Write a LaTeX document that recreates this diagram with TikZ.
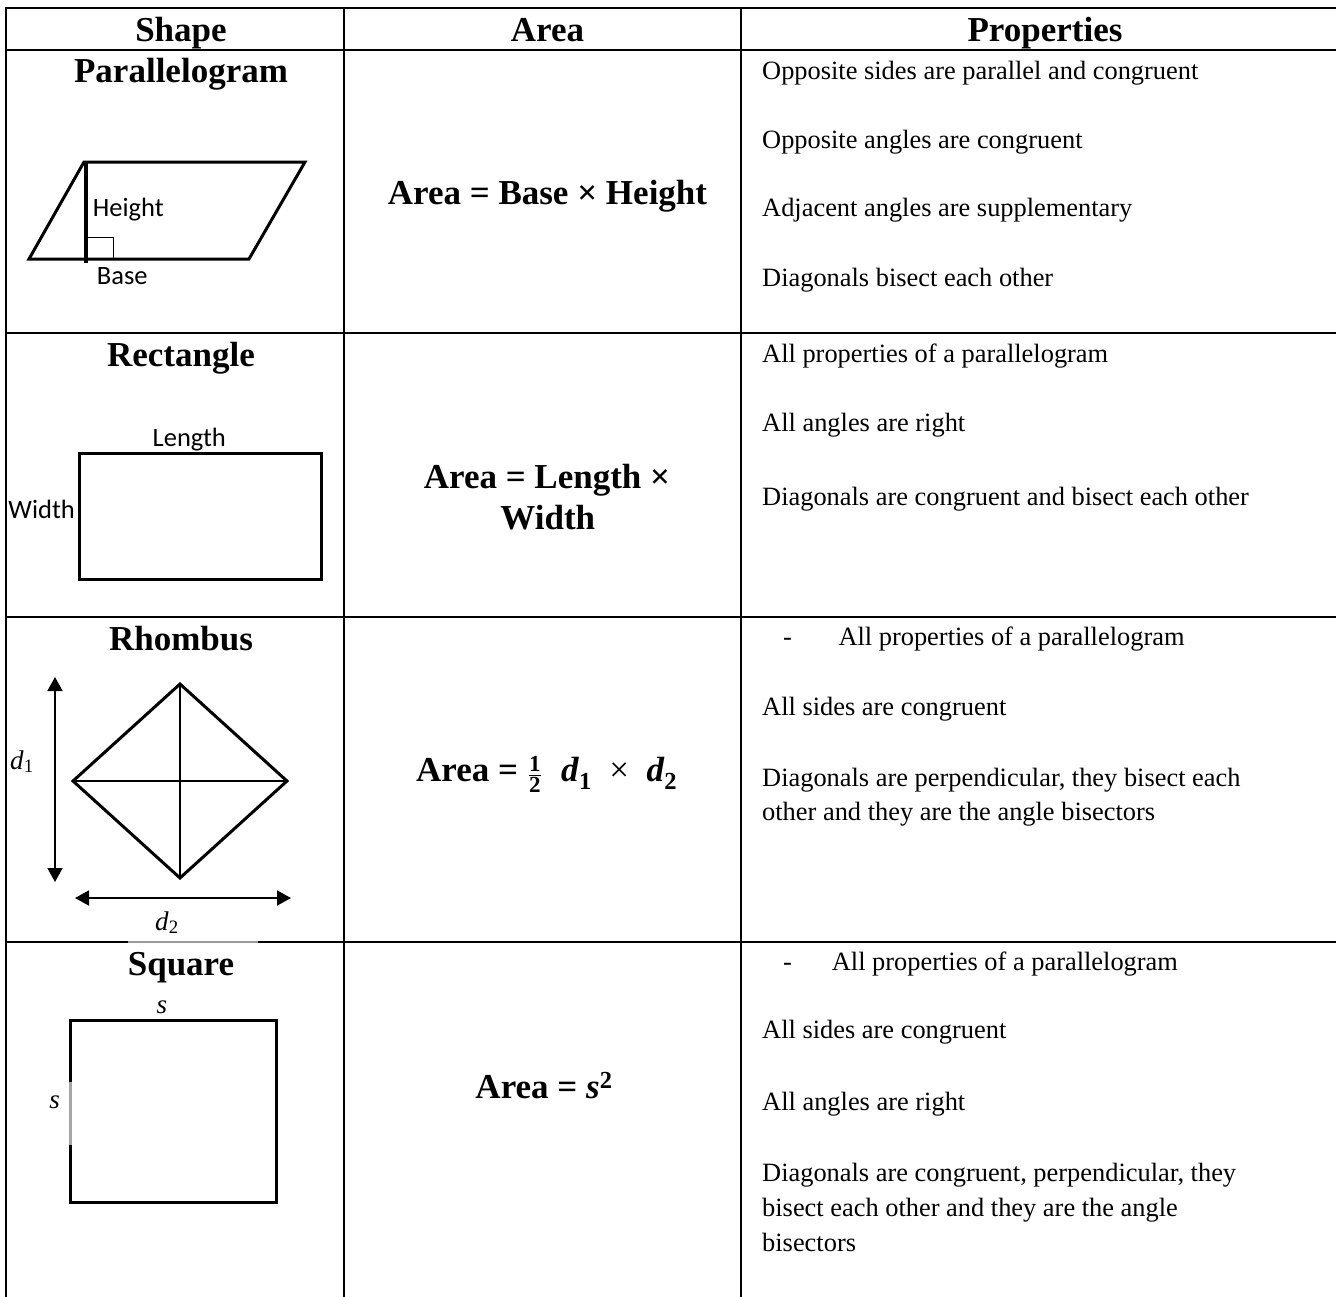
\documentclass[tikz,border=0pt]{standalone}
\usepackage{amsmath}
\usepackage{fontspec}
\setmainfont{Liberation Serif}
\newfontfamily\calibri{Carlito}
\usetikzlibrary{arrows.meta}

\newcommand\headfont{\fontsize{35}{40}\selectfont\bfseries}
\newcommand\bodyfont{\fontsize{26.4}{30}\selectfont}
\newcommand\lblfont{\fontsize{26.5}{30}\selectfont\calibri}
\newcommand\mlblfont{\fontsize{27}{30}\selectfont}
\newcommand\fracdigit[1]{\mbox{\fontsize{23}{23}\selectfont #1}}

\tikzset{
  head/.style={font=\headfont, anchor=base, inner sep=0pt},
  prop/.style={font=\bodyfont, anchor=base west, inner sep=0pt},
  lbl/.style={font=\lblfont, anchor=base west, inner sep=0pt},
  mlbl/.style={font=\mlblfont, anchor=base, inner sep=0pt},
  gridline/.style={line width=2.6pt, line cap=rect},
  outline/.style={line width=3pt, line join=miter},
  diag/.style={line width=1.1pt},
  dimarrow/.style={line width=1.8pt,
    {Triangle[length=14pt,width=15pt]}-{Triangle[length=14pt,width=15pt]}}
}

\begin{document}
\begin{tikzpicture}[x=1pt,y=-1pt]
            \useasboundingbox (0,0) rectangle (1336,1296);

            % table rules
            \draw[gridline] (6,8) -- (1336,8);
            \foreach \y in {50,333,617,942}
                \draw[gridline] (6,\y) -- (1336,\y);
            \foreach \x in {6,344,741}
                \draw[gridline] (\x,8) -- (\x,1296);

            \node[head] (hshape) at (181,41.7) {Shape};
            \node[head] (harea) at (547.5,41.7) {Area};
            \node[head] (hprop) at (1045,41.7) {Properties};

            % parallelogram
            \node[head] (npar) at (181,82.7) {Parallelogram};
            \coordinate (pa) at (29,259);
            \coordinate (pb) at (84,162);
            \coordinate (pc) at (305,162);
            \coordinate (pd) at (249,259);
            \draw[outline] (pa) -- (pb) -- (pc) -- (pd) -- cycle;
            \draw[line width=3.6pt] (86,162) -- (86,263);
            \draw[line width=1pt] (86,237) rectangle (113,259);
            \node[lbl] (lheight) at (92.7,216.7) {Height};
            \node[lbl] (lbase) at (96.7,284) {Base};

            \node[head] (apar) at (547.5,204) {Area = Base × Height};

            \node[prop] (p11) at (762,79) {Opposite sides are parallel and congruent};
            \node[prop] (p12) at (762,148) {Opposite angles are congruent};
            \node[prop] (p13) at (762,216.7) {Adjacent angles are supplementary};
            \node[prop] (p14) at (762,286.7) {Diagonals bisect each other};

            % rectangle
            \node[head] (nrect) at (181,366) {Rectangle};
            \draw[outline] (79,453) rectangle (321,579);
            \node[lbl, anchor=base] (llength) at (189.3,446.7) {Length};
            \node[lbl] (lwidth) at (8.3,518.3) {Width};

            \node[head] (arect1) at (547,488.3) {Area = Length ×};
            \node[head] (arect2) at (547.8,529.3) {Width};

            \node[prop] (p21) at (762,362.7) {All properties of a parallelogram};
            \node[prop] (p22) at (762,431.7) {All angles are right};
            \node[prop] (p23) at (762,505) {Diagonals are congruent and bisect each other};

            % rhombus
            \node[head] (nrhom) at (181,650) {Rhombus};
            \coordinate (rt) at (180,684);
            \coordinate (rl) at (73,781);
            \coordinate (rr) at (287,781);
            \coordinate (rb) at (180,878);
            \draw[outline] (rt) -- (rr) -- (rb) -- (rl) -- cycle;
            \draw[diag] (rl) -- (rr);
            \draw[diag] (rt) -- (rb);
            \coordinate (d1a) at (55,677);
            \coordinate (d1b) at (55,882);
            \coordinate (d2a) at (75,898);
            \coordinate (d2b) at (291,898);
            \draw[dimarrow] (d1a) -- (d1b);
            \draw[dimarrow] (d2a) -- (d2b);
            \node[mlbl, anchor=base west] (ld1) at (10,769) {\textit{d}\textsubscript{1}};
            \node[mlbl] (ld2) at (167,930) {\textit{d}\textsubscript{2}};
            \draw[gray!80, line width=2.6pt] (128,942) -- (258,942);

            \node[head] (arhom) at (546.7,781.7)
                {Area =\;$\frac{\fracdigit{1}}{\fracdigit{2}}$\;\;\textit{d}\textsubscript{1}\ \ {\mdseries ×}\ \ \textit{d}\textsubscript{2}};

            \node[prop] (p31a) at (783,645) {-};
            \node[prop] (p31) at (838.3,645) {All properties of a parallelogram};
            \node[prop] (p32) at (762,715) {All sides are congruent};
            \node[prop] (p33) at (762,786.7) {Diagonals are perpendicular, they bisect each};
            \node[prop] (p34) at (762,820.7) {other and they are the angle bisectors};

            % square
            \node[head] (nsq) at (181,975.7) {Square};
            \draw[outline] (70,1020) rectangle (276,1202);
            \draw[gray!70, line width=3pt] (70,1082) -- (70,1145);
            \node[mlbl] (ls1) at (162,1013) {\textit{s}};
            \node[mlbl] (ls2) at (54.7,1108) {\textit{s}};

            \node[head] (asq) at (544,1098) {Area = \textit{s}\textsuperscript{2}};

            \node[prop] (p41a) at (783,970) {-};
            \node[prop] (p41) at (831.7,970) {All properties of a parallelogram};
            \node[prop] (p42) at (762,1038) {All sides are congruent};
            \node[prop] (p43) at (762,1110) {All angles are right};
            \node[prop] (p44) at (762,1181.7) {Diagonals are congruent, perpendicular, they};
            \node[prop] (p45) at (762,1216.7) {bisect each other and they are the angle};
            \node[prop] (p46) at (762,1251.7) {bisectors};
\end{tikzpicture}
\end{document}
